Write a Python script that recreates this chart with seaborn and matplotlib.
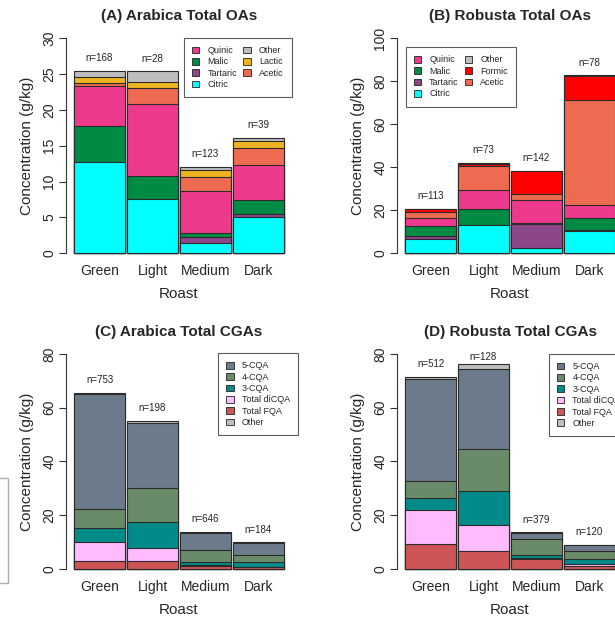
import matplotlib
matplotlib.use('Agg')
import matplotlib.pyplot as plt
from matplotlib.patches import Patch, Rectangle
import pandas as pd
import seaborn as sns

# roast levels on the x axis
roasts = ['Green', 'Light', 'Medium', 'Dark']

# (A) Arabica organic acids, g/kg, bottom to top
ara_citric = [12.7, 7.5, 1.4, 5.05]
ara_tartaric = [0.0, 0.0, 0.9, 0.4]
ara_malic = [5.0, 3.3, 0.5, 1.9]
ara_quinic = [5.6, 10.0, 5.85, 4.9]
ara_acetic = [0.5, 2.3, 2.0, 2.5]
ara_lactic = [0.85, 0.85, 1.0, 0.9]
ara_other_oa = [0.85, 1.45, 0.35, 0.45]
ara_oa_n = [168, 28, 123, 39]

# (B) Robusta organic acids
rob_citric = [6.5, 12.9, 2.2, 10.2]
rob_tartaric = [1.5, 0.1, 11.1, 0.5]
rob_malic = [4.6, 7.5, 0.8, 5.6]
rob_quinic = [3.6, 9.0, 10.6, 6.3]
rob_acetic = [2.9, 11.2, 2.6, 48.8]
rob_formic = [1.2, 0.8, 11.0, 11.3]
rob_other_oa = [0.4, 0.5, 0.1, 0.1]
rob_oa_n = [113, 73, 142, 78]

# (C) Arabica chlorogenic acids
ara_fqa = [3.0, 3.0, 1.0, 0.5]
ara_dicqa = [7.1, 4.9, 0.4, 0.3]
ara_cqa3 = [5.0, 9.6, 1.2, 1.7]
ara_cqa4 = [7.0, 12.6, 4.3, 2.6]
ara_cqa5 = [43.0, 24.3, 6.4, 4.4]
ara_other_cga = [0.3, 0.8, 0.3, 0.3]
ara_cga_n = [753, 198, 646, 184]

# (D) Robusta chlorogenic acids
rob_fqa = [9.1, 6.7, 3.6, 1.0]
rob_dicqa = [12.8, 9.6, 0.3, 0.7]
rob_cqa3 = [4.3, 12.6, 1.2, 2.0]
rob_cqa4 = [6.3, 15.75, 5.8, 2.8]
rob_cqa5 = [38.1, 29.75, 2.5, 2.3]
rob_other_cga = [0.7, 2.0, 0.1, 0.2]
rob_cga_n = [512, 128, 379, 120]

# colours
col = {'Citric': '#00FFFF', 'Tartaric': '#8B4789', 'Malic': '#008B45',
       'Quinic': '#EE3A8C', 'Acetic': '#EE6A50', 'Lactic': '#EEB422',
       'Formic': '#FF0000', 'Other': '#BEBEBE',
       'Total FQA': '#CD5555', 'Total diCQA': '#FFBBFF', '3-CQA': '#008B8B',
       '4-CQA': '#698B69', '5-CQA': '#6C7B8B'}

sns.set_theme(style='white')
plt.rcParams['font.family'] = ['Liberation Sans', 'DejaVu Sans']

W, H = 615, 617
fig = plt.figure(figsize=(W / 100, H / 100), dpi=100)


def px_axes(left, right, top, bottom):
    return fig.add_axes([left / W, 1 - bottom / H, (right - left) / W, (bottom - top) / H])


def panel(ax, layers, ntext, top, step, title, legend_order, legend_xy, ncol):
    # long-form table of the stacked layers
    df = pd.DataFrame([(r, name, v) for name, vals in layers for r, v in zip(roasts, vals)],
                      columns=['Roast', 'Part', 'Value'])
    df['Cum'] = df.groupby('Roast', sort=False)['Value'].cumsum()
    names = [name for name, _ in layers]
    # draw from the top layer down so lower layers sit on top
    for name in names[::-1]:
        sub = df[df['Part'] == name]
        sns.barplot(data=sub, x='Roast', y='Cum', order=roasts, color=col[name],
                    saturation=1, width=0.952, edgecolor='#2b2b2b', linewidth=0.8,
                    errorbar=None, ax=ax)
    totals = df.groupby('Roast', sort=False)['Value'].sum()
    for i, r in enumerate(roasts):
        y = min(totals[r] + 0.06 * top, 0.985 * top)
        ax.text(i, y, f'n={ntext[i]}', ha='center', va='center', fontsize=7, color='#222222')

    ax.set_xlim(-0.634, 3.634)
    ax.set_ylim(-0.04 * top, 1.04 * top)
    ax.set_yticks(range(0, top + 1, step))
    for s in ['top', 'right', 'bottom']:
        ax.spines[s].set_visible(False)
    ax.spines['left'].set_bounds(0, top)
    ax.spines['left'].set_color('#333333')
    ax.spines['left'].set_linewidth(0.8)
    ax.tick_params(axis='y', length=5, width=0.8, color='#333333', labelrotation=90,
                   labelsize=10, pad=2, left=True)
    ax.tick_params(axis='x', length=0, labelsize=10, pad=2)
    for lab in ax.get_yticklabels():
        lab.set_va('center')
    ax.set_xlabel('Roast', fontsize=11, labelpad=6.5)
    ax.set_ylabel('Concentration (g/kg)', fontsize=11, labelpad=6)
    ax.set_title(title, fontsize=11, fontweight='bold', pad=7)
    ax.grid(False)

    handles = [Patch(facecolor=col[n], edgecolor='#222222', linewidth=0.6, label=n)
               for n in legend_order]
    leg = ax.legend(handles=handles, loc='upper left', ncol=ncol, fontsize=6.5,
                    bbox_to_anchor=(legend_xy[0] / W, 1 - legend_xy[1] / H),
                    bbox_transform=fig.transFigure, frameon=True, fancybox=False,
                    handlelength=0.8, handleheight=0.8, handletextpad=0.9,
                    columnspacing=0.7, labelspacing=0.26, borderpad=0.9,
                    borderaxespad=0)
    leg.get_frame().set_edgecolor('#333333')
    leg.get_frame().set_linewidth(0.8)


axA = px_axes(66, 292, 29.9, 261.6)
axB = px_axes(397, 623, 29.9, 261.6)
axC = px_axes(66, 292, 345.4, 577.3)
axD = px_axes(397, 623, 345.4, 577.3)

panel(axA, [('Citric', ara_citric), ('Tartaric', ara_tartaric), ('Malic', ara_malic),
            ('Quinic', ara_quinic), ('Acetic', ara_acetic), ('Lactic', ara_lactic),
            ('Other', ara_other_oa)],
      ara_oa_n, 30, 5, '(A) Arabica Total OAs',
      ['Quinic', 'Malic', 'Tartaric', 'Citric', 'Other', 'Lactic', 'Acetic'], (184, 38), 2)

panel(axB, [('Citric', rob_citric), ('Tartaric', rob_tartaric), ('Malic', rob_malic),
            ('Quinic', rob_quinic), ('Acetic', rob_acetic), ('Formic', rob_formic),
            ('Other', rob_other_oa)],
      rob_oa_n, 100, 20, '(B) Robusta Total OAs',
      ['Quinic', 'Malic', 'Tartaric', 'Citric', 'Other', 'Formic', 'Acetic'], (405.7, 47.3), 2)

cga_legend = ['5-CQA', '4-CQA', '3-CQA', 'Total diCQA', 'Total FQA', 'Other']

panel(axC, [('Total FQA', ara_fqa), ('Total diCQA', ara_dicqa), ('3-CQA', ara_cqa3),
            ('4-CQA', ara_cqa4), ('5-CQA', ara_cqa5), ('Other', ara_other_cga)],
      ara_cga_n, 80, 20, '(C) Arabica Total CGAs', cga_legend, (218.3, 353.3), 1)

panel(axD, [('Total FQA', rob_fqa), ('Total diCQA', rob_dicqa), ('3-CQA', rob_cqa3),
            ('4-CQA', rob_cqa4), ('5-CQA', rob_cqa5), ('Other', rob_other_cga)],
      rob_cga_n, 80, 20, '(D) Robusta Total CGAs', cga_legend, (549, 354), 1)

# stray box edge at the left margin of the source image
fig.add_artist(Rectangle((-14 / W, 1 - 583 / H), 22 / W, 105 / H, transform=fig.transFigure,
                         fill=False, edgecolor='#b0b0b0', linewidth=1))

fig.savefig('out.png', dpi=100)
